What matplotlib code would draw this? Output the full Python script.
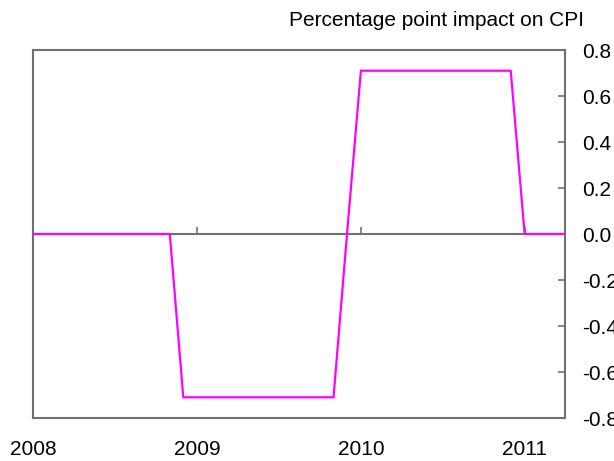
import matplotlib
matplotlib.use("Agg")
import matplotlib.pyplot as plt
import matplotlib.dates as mdates
import pandas as pd

plt.rcParams['font.family'] = ['Liberation Sans', 'DejaVu Sans']

# monthly percentage point impact on CPI, Jan 2008 - Apr 2011
months = pd.date_range("2008-01-01", "2011-04-01", freq="MS")
impact = [0, 0, 0, 0, 0, 0, 0, 0, 0, 0, 0, -0.71,                 # 2008
          -0.71, -0.71, -0.71, -0.71, -0.71, -0.71,
          -0.71, -0.71, -0.71, -0.71, -0.71, 0,                   # 2009
          0.71, 0.71, 0.71, 0.71, 0.71, 0.71,
          0.71, 0.71, 0.71, 0.71, 0.71, 0.71,                     # 2010
          0, 0, 0, 0]                                             # 2011
yticks = [0.8, 0.6, 0.4, 0.2, 0.0, -0.2, -0.4, -0.6, -0.8]
title = "Percentage point impact on CPI"

grey = "#707070"

fig = plt.figure(figsize=(6.14, 4.61), dpi=100)
ax = fig.add_axes([33 / 614, 1 - 418 / 461, 532 / 614, 368 / 461])

ax.plot(months, impact, color="#ff00ff", lw=1.6, zorder=3)

ax.set_xlim(months[0], months[-1])
ax.set_ylim(-0.8, 0.8)
ax.set_yticks(yticks)
ax.yaxis.set_major_formatter(matplotlib.ticker.FormatStrFormatter("%.1f"))
ax.yaxis.tick_right()
ax.tick_params(axis="y", direction="in", length=5, color=grey, width=1.2,
               pad=12, labelsize=15)

ax.xaxis.set_major_locator(mdates.YearLocator())
ax.xaxis.set_major_formatter(mdates.DateFormatter("%Y"))
ax.tick_params(axis="x", length=0, pad=16, labelsize=15)

for s in ax.spines.values():
    s.set_color(grey)
    s.set_linewidth(1.5)

# zero line with year ticks pointing up
zero = ax.secondary_xaxis(0.5)
zero.xaxis.set_major_locator(mdates.YearLocator())
zero.tick_params(direction="out", length=5, color=grey, width=1.2,
                 labeltop=False, labelbottom=False)
for s in zero.spines.values():
    s.set_color(grey)
    s.set_linewidth(1.5)

fig.text(584 / 614, 1 - 20 / 461, title, ha="right", va="center", fontsize=15)

fig.savefig("out.png", dpi=100)
